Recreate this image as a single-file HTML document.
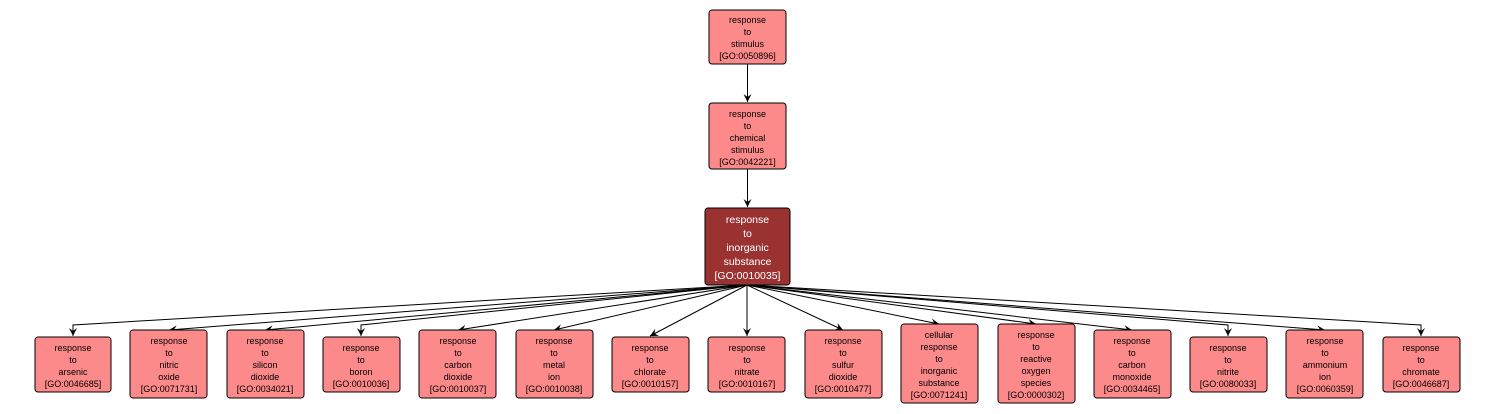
<!DOCTYPE html>
<html><head><style>
body{margin:0;background:#fff;}
svg{display:block;font-family:"Liberation Sans",sans-serif;}
.b{fill:#fd8a8a;stroke:#000;stroke-width:1;}
.t{font-size:9px;fill:#000;text-anchor:middle;}
.c{font-size:10.5px;fill:#fff;text-anchor:middle;}
.e{fill:none;stroke:#000;stroke-width:1;}
</style></head><body>
<svg width="1495" height="414" viewBox="0 0 1495 414">
<defs><marker id="a" markerWidth="10" markerHeight="10" refX="9" refY="5" orient="auto" markerUnits="userSpaceOnUse"><path d="M1,1 L9,5 L1,9 L4,5 Z" fill="#000"/></marker></defs>
<!-- edges -->
<line class="e" x1="747.5" y1="64" x2="747.5" y2="102" marker-end="url(#a)"/>
<line class="e" x1="747.5" y1="169" x2="747.5" y2="207" marker-end="url(#a)"/>
<polyline class="e" points="747,285 73,325 73,336" marker-end="url(#a)"/>
<line class="e" x1="747" y1="285" x2="169" y2="330" marker-end="url(#a)"/>
<line class="e" x1="747" y1="285" x2="265" y2="330" marker-end="url(#a)"/>
<polyline class="e" points="747,285 361,325 361,336" marker-end="url(#a)"/>
<line class="e" x1="747" y1="285" x2="458" y2="330" marker-end="url(#a)"/>
<line class="e" x1="747" y1="285" x2="554" y2="330" marker-end="url(#a)"/>
<line class="e" x1="747" y1="285" x2="650" y2="336" marker-end="url(#a)"/>
<line class="e" x1="747" y1="285" x2="747" y2="336" marker-end="url(#a)"/>
<line class="e" x1="747" y1="285" x2="843" y2="330" marker-end="url(#a)"/>
<line class="e" x1="747" y1="285" x2="939" y2="324" marker-end="url(#a)"/>
<line class="e" x1="747" y1="285" x2="1036" y2="324" marker-end="url(#a)"/>
<line class="e" x1="747" y1="285" x2="1132" y2="330" marker-end="url(#a)"/>
<polyline class="e" points="747,285 1228,325 1228,336" marker-end="url(#a)"/>
<line class="e" x1="747" y1="285" x2="1325" y2="330" marker-end="url(#a)"/>
<polyline class="e" points="747,285 1421,325 1421,336" marker-end="url(#a)"/>
<!-- top -->
<rect class="b" x="709" y="10" width="77" height="54" rx="3"/>
<text class="t" x="747.5" y="23">response</text><text class="t" x="747.5" y="35">to</text><text class="t" x="747.5" y="47">stimulus</text><text class="t" x="747.5" y="59">[GO:0050896]</text>
<rect class="b" x="709" y="103" width="77" height="66" rx="3"/>
<text class="t" x="747.5" y="117">response</text><text class="t" x="747.5" y="129">to</text><text class="t" x="747.5" y="141">chemical</text><text class="t" x="747.5" y="153">stimulus</text><text class="t" x="747.5" y="165">[GO:0042221]</text>
<rect x="705" y="208" width="85" height="77" rx="3" fill="#9a3232" stroke="#000"/>
<text class="c" x="747.5" y="223">response</text><text class="c" x="747.5" y="237">to</text><text class="c" x="747.5" y="251">inorganic</text><text class="c" x="747.5" y="265">substance</text><text class="c" x="747.5" y="279">[GO:0010035]</text>
<!-- bottom 4-line boxes y337-392 -->
<g>
<rect class="b" x="35" y="337" width="76" height="55" rx="3"/>
<text class="t" x="73" y="351">response</text><text class="t" x="73" y="363">to</text><text class="t" x="73" y="375">arsenic</text><text class="t" x="73" y="387">[GO:0046685]</text>
<rect class="b" x="323" y="337" width="77" height="55" rx="3"/>
<text class="t" x="361" y="351">response</text><text class="t" x="361" y="363">to</text><text class="t" x="361" y="375">boron</text><text class="t" x="361" y="387">[GO:0010036]</text>
<rect class="b" x="612" y="337" width="77" height="55" rx="3"/>
<text class="t" x="650" y="351">response</text><text class="t" x="650" y="363">to</text><text class="t" x="650" y="375">chlorate</text><text class="t" x="650" y="387">[GO:0010157]</text>
<rect class="b" x="708" y="337" width="77" height="55" rx="3"/>
<text class="t" x="747" y="351">response</text><text class="t" x="747" y="363">to</text><text class="t" x="747" y="375">nitrate</text><text class="t" x="747" y="387">[GO:0010167]</text>
<rect class="b" x="1190" y="337" width="77" height="55" rx="3"/>
<text class="t" x="1228" y="351">response</text><text class="t" x="1228" y="363">to</text><text class="t" x="1228" y="375">nitrite</text><text class="t" x="1228" y="387">[GO:0080033]</text>
<rect class="b" x="1383" y="337" width="77" height="55" rx="3"/>
<text class="t" x="1421" y="351">response</text><text class="t" x="1421" y="363">to</text><text class="t" x="1421" y="375">chromate</text><text class="t" x="1421" y="387">[GO:0046687]</text>
</g>
<!-- 5-line boxes y330-398 -->
<g>
<rect class="b" x="130" y="330" width="77" height="68" rx="3"/>
<text class="t" x="169" y="344">response</text><text class="t" x="169" y="356">to</text><text class="t" x="169" y="368">nitric</text><text class="t" x="169" y="380">oxide</text><text class="t" x="169" y="392">[GO:0071731]</text>
<rect class="b" x="227" y="330" width="77" height="68" rx="3"/>
<text class="t" x="265" y="344">response</text><text class="t" x="265" y="356">to</text><text class="t" x="265" y="368">silicon</text><text class="t" x="265" y="380">dioxide</text><text class="t" x="265" y="392">[GO:0034021]</text>
<rect class="b" x="419" y="330" width="77" height="68" rx="3"/>
<text class="t" x="458" y="344">response</text><text class="t" x="458" y="356">to</text><text class="t" x="458" y="368">carbon</text><text class="t" x="458" y="380">dioxide</text><text class="t" x="458" y="392">[GO:0010037]</text>
<rect class="b" x="516" y="330" width="77" height="68" rx="3"/>
<text class="t" x="554" y="344">response</text><text class="t" x="554" y="356">to</text><text class="t" x="554" y="368">metal</text><text class="t" x="554" y="380">ion</text><text class="t" x="554" y="392">[GO:0010038]</text>
<rect class="b" x="805" y="330" width="77" height="68" rx="3"/>
<text class="t" x="843" y="344">response</text><text class="t" x="843" y="356">to</text><text class="t" x="843" y="368">sulfur</text><text class="t" x="843" y="380">dioxide</text><text class="t" x="843" y="392">[GO:0010477]</text>
<rect class="b" x="1094" y="330" width="77" height="68" rx="3"/>
<text class="t" x="1132" y="344">response</text><text class="t" x="1132" y="356">to</text><text class="t" x="1132" y="368">carbon</text><text class="t" x="1132" y="380">monoxide</text><text class="t" x="1132" y="392">[GO:0034465]</text>
<rect class="b" x="1286" y="330" width="77" height="68" rx="3"/>
<text class="t" x="1325" y="344">response</text><text class="t" x="1325" y="356">to</text><text class="t" x="1325" y="368">ammonium</text><text class="t" x="1325" y="380">ion</text><text class="t" x="1325" y="392">[GO:0060359]</text>
</g>
<!-- 6-line boxes y324-403 -->
<rect class="b" x="901" y="324" width="77" height="79" rx="3"/>
<text class="t" x="939" y="338">cellular</text><text class="t" x="939" y="350">response</text><text class="t" x="939" y="362">to</text><text class="t" x="939" y="374">inorganic</text><text class="t" x="939" y="386">substance</text><text class="t" x="939" y="398">[GO:0071241]</text>
<rect class="b" x="998" y="324" width="77" height="79" rx="3"/>
<text class="t" x="1036" y="338">response</text><text class="t" x="1036" y="350">to</text><text class="t" x="1036" y="362">reactive</text><text class="t" x="1036" y="374">oxygen</text><text class="t" x="1036" y="386">species</text><text class="t" x="1036" y="398">[GO:0000302]</text>
</svg>
</body></html>
